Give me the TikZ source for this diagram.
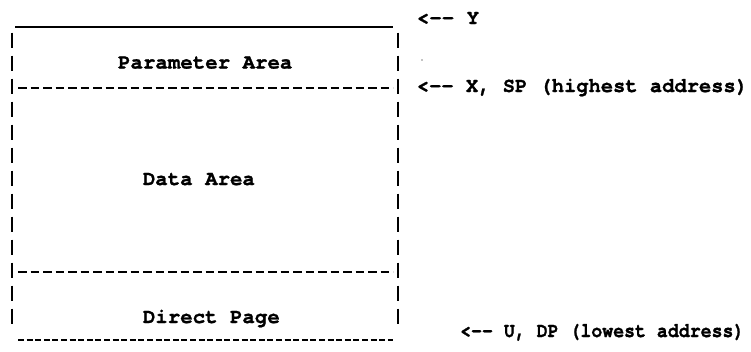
\documentclass[tikz,border=0pt]{standalone}
\usepackage{fontspec}
\newfontfamily\courfam{texgyrecursor-bold.otf}[FakeBold=1.2]
\newcommand\courfont{\courfam\fontsize{20.75}{23}\selectfont}
\tikzset{
  lbl/.style={anchor=base west, inner sep=0pt, font=\courfont},
  barline/.style={line width=2.4pt, dash pattern=on 15pt off 8pt},
  divider/.style={line width=2pt, dash pattern=on 8.5pt off 4pt},
  bottomline/.style={line width=1.4pt, dash pattern=on 6pt off 2.6pt},
}
\begin{document}
\begin{tikzpicture}[x=1pt,y=-1pt]
\useasboundingbox (0,0) rectangle (751,351);
% corners of the box
\coordinate (tl) at (15,27);
\coordinate (tr) at (393,27);
\coordinate (lt) at (12,32.5);
\coordinate (lb) at (12,324);
\coordinate (rt) at (398,32.5);
\coordinate (rb) at (398,324);
\coordinate (d1l) at (18,88);
\coordinate (d1r) at (393,88);
\coordinate (d2l) at (18,272);
\coordinate (d2r) at (393,272);
\coordinate (bl) at (18,340);
\coordinate (br) at (393,340);
% frame
\draw[line width=1.8pt] (tl) -- (tr);
\draw[barline] (lt) -- (lb);
\draw[barline] (rt) -- (rb);
\draw[divider] (d1l) -- (d1r);
\draw[divider] (d2l) -- (d2r);
\draw[bottomline] (bl) -- (br);
% texts
\node[lbl] (y) at (416.7,24) {<-{}- Y};
\node[lbl] (param) at (117.9,68.5) {Parameter Area};
\node[lbl, xscale=0.985] (x) at (416.7,92) {<-{}- X, SP (highest address)};
\node[lbl] (data) at (142.7,185) {Data Area};
\node[lbl] (direct) at (142.7,323) {Direct Page};
\node[lbl, xscale=0.878] (u) at (460,337) {<-{}- U, DP (lowest address)};
% speck
\fill (422,60) circle (0.7pt);
\end{tikzpicture}
\end{document}
